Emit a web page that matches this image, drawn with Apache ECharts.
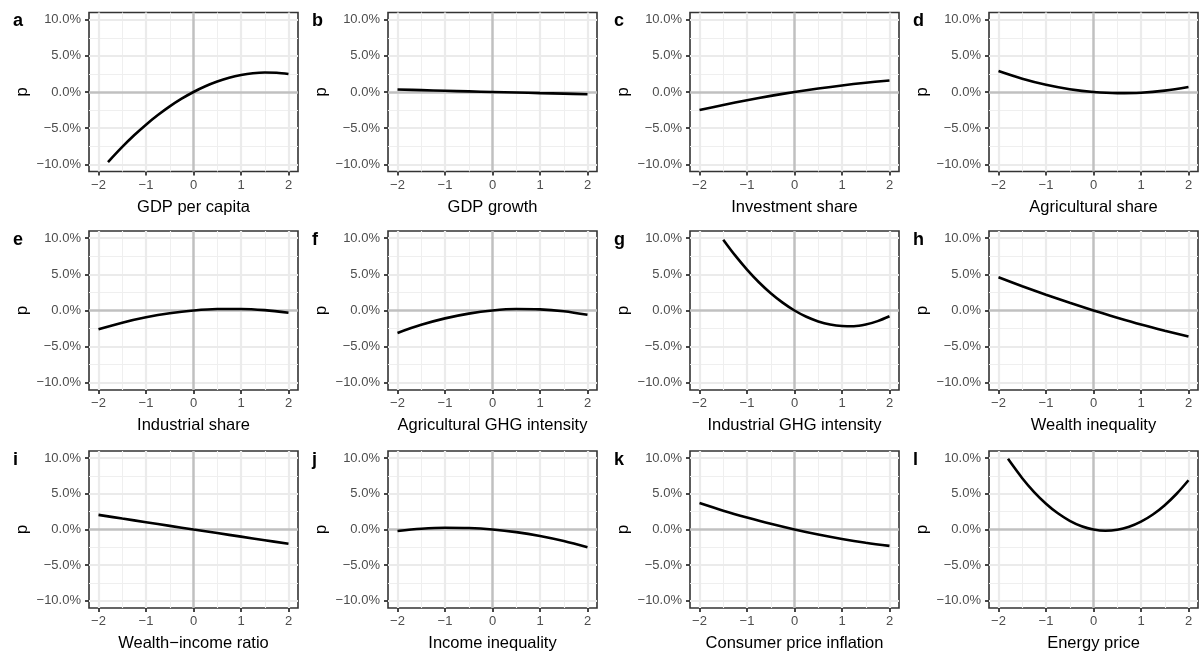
<!DOCTYPE html>
<html>
<head>
<meta charset="utf-8">
<script src="https://cdn.jsdelivr.net/npm/echarts@6/dist/echarts.min.js"></script>
<style>
  html, body { margin: 0; padding: 0; background: #fff; }
  #chart { width: 1203px; height: 653px; }
</style>
</head>
<body>
<div id="chart"></div>
<script>
// x positions (standardised predictor)
var xHalf = [-2, -1.5, -1, -0.5, 0, 0.5, 1, 1.5, 2];
var xFromM18 = [-1.8, -1.5, -1.25, -1, -0.75, -0.5, -0.25, 0, 0.25, 0.5, 0.75, 1, 1.25, 1.5, 1.75, 2];
var xFromM15 = [-1.5, -1.25, -1, -0.75, -0.5, -0.25, 0, 0.25, 0.5, 0.75, 1, 1.25, 1.5, 1.75, 2];

// p values in percent
var pGdpPerCapita = [-9.7, -7.6, -5.99, -4.52, -3.19, -1.99, -0.93, 0, 0.79, 1.44, 1.96, 2.34, 2.59, 2.69, 2.67, 2.5];
var pGdpGrowth = [0.35, 0.26, 0.17, 0.08, 0, -0.07, -0.15, -0.23, -0.32];
var pInvestment = [-2.5, -1.79, -1.14, -0.54, 0, 0.48, 0.91, 1.28, 1.6];
var pAgriShare = [2.9, 1.84, 1.0, 0.39, 0, -0.16, -0.1, 0.19, 0.7];
var pIndShare = [-2.6, -1.68, -0.94, -0.38, 0, 0.2, 0.21, 0.05, -0.3];
var pAgriGhg = [-3.1, -1.98, -1.09, -0.43, 0, 0.2, 0.16, -0.1, -0.6];
var pIndGhg = [9.8, 7.62, 5.66, 3.91, 2.39, 1.09, 0, -0.87, -1.51, -1.94, -2.15, -2.18, -1.95, -1.47, -0.8];
var pWealthIneq = [4.6, 3.36, 2.18, 1.06, 0, -0.99, -1.93, -2.79, -3.6];
var pWealthIncome = [2.05, 1.53, 1.02, 0.51, 0, -0.5, -1.0, -1.5, -2.0];
var pIncomeIneq = [-0.2, 0.1, 0.24, 0.2, 0, -0.37, -0.91, -1.62, -2.5];
var pCpi = [3.7, 2.64, 1.68, 0.79, 0, -0.71, -1.33, -1.86, -2.3];
var pEnergy = [9.9, 7.19, 5.25, 3.62, 2.27, 1.22, 0.46, 0, -0.17, -0.04, 0.38, 1.1, 2.1, 3.41, 5.01, 6.9];

var tags = ['a', 'b', 'c', 'd', 'e', 'f', 'g', 'h', 'i', 'j', 'k', 'l'];
var titles = ['GDP per capita', 'GDP growth', 'Investment share', 'Agricultural share',
  'Industrial share', 'Agricultural GHG intensity', 'Industrial GHG intensity', 'Wealth inequality',
  'Wealth\u2212income ratio', 'Income inequality', 'Consumer price inflation', 'Energy price'];
var xs = [xFromM18, xHalf, xHalf, xHalf, xHalf, xHalf, xFromM15, xHalf, xHalf, xHalf, xHalf, xFromM18];
var ps = [pGdpPerCapita, pGdpGrowth, pInvestment, pAgriShare, pIndShare, pAgriGhg, pIndGhg,
  pWealthIneq, pWealthIncome, pIncomeIneq, pCpi, pEnergy];

var xTicks = [-2, -1, 0, 1, 2];
var yTicks = [-10, -5, 0, 5, 10];
var xMinor = [-1.5, -0.5, 0.5, 1.5];
var yMinor = [-7.5, -2.5, 2.5, 7.5];

var lefts = [89, 388, 690, 989];
var tops = [12.5, 231, 451];
var W = 209, H = 159;
var font = 'Liberation Sans, Arial, Helvetica, sans-serif';

function minus(s) { return String(s).replace('-', '\u2212'); }

var grid = [], xAxis = [], yAxis = [], series = [], title = [];

tags.forEach(function (tag, i) {
  var c = i % 4, r = Math.floor(i / 4);
  grid.push({
    left: lefts[c], top: tops[r], width: W, height: H,
    show: true, backgroundColor: '#fff', borderColor: '#333', borderWidth: 1.6
  });
  xAxis.push({
    gridIndex: i, type: 'value', min: -2.2, max: 2.2,
    name: titles[i], nameLocation: 'middle', nameGap: 27,
    nameTextStyle: { fontSize: 16.5, color: '#000', fontFamily: font },
    axisLine: { show: false, onZero: false },
    splitLine: { show: false },
    axisTick: { show: true, customValues: xTicks, length: 4, lineStyle: { color: '#333', width: 1.8 } },
    axisLabel: {
      customValues: xTicks, margin: 7, fontSize: 13, color: '#4d4d4d', fontFamily: font,
      formatter: function (v) { return minus(v); }
    }
  });
  yAxis.push({
    gridIndex: i, type: 'value', min: -11, max: 11,
    name: 'p', nameLocation: 'middle', nameGap: 58, nameRotate: 90,
    nameTextStyle: { fontSize: 16.5, color: '#000', fontFamily: font },
    axisLine: { show: false, onZero: false },
    splitLine: { show: false },
    axisTick: { show: true, customValues: yTicks, length: 4, lineStyle: { color: '#333', width: 1.8 } },
    axisLabel: {
      customValues: yTicks, margin: 8, fontSize: 13, color: '#4d4d4d', fontFamily: font,
      formatter: function (v) { return minus(v.toFixed(1)) + '%'; }
    }
  });

  var lines = [];
  xMinor.forEach(function (v) { lines.push({ xAxis: v, lineStyle: { color: '#efefef', width: 1.1, type: 'solid' } }); });
  yMinor.forEach(function (v) { lines.push({ yAxis: v, lineStyle: { color: '#efefef', width: 1.1, type: 'solid' } }); });
  xTicks.forEach(function (v) { if (v !== 0) lines.push({ xAxis: v, lineStyle: { color: '#ebebeb', width: 2.2, type: 'solid' } }); });
  yTicks.forEach(function (v) { if (v !== 0) lines.push({ yAxis: v, lineStyle: { color: '#ebebeb', width: 2.2, type: 'solid' } }); });
  lines.push({ xAxis: 0, lineStyle: { color: '#c0c0c0', width: 2.5, type: 'solid' } });
  lines.push({ yAxis: 0, lineStyle: { color: '#c0c0c0', width: 2.5, type: 'solid' } });

  series.push({
    type: 'line', xAxisIndex: i, yAxisIndex: i, data: [], silent: true, z: 1,
    markLine: { symbol: ['none', 'none'], silent: true, animation: false, label: { show: false }, data: lines }
  });
  series.push({
    type: 'line', xAxisIndex: i, yAxisIndex: i, z: 5,
    data: xs[i].map(function (x, j) { return [x, ps[i][j]]; }),
    showSymbol: false, smooth: 0.35, silent: true,
    lineStyle: { color: '#000', width: 2.6 }
  });
  title.push({
    text: tag, left: lefts[c] - 81, top: tops[r] - 5,
    textStyle: { fontSize: 18, fontWeight: 'bold', color: '#000', fontFamily: font }
  });
});

var chart = echarts.init(document.getElementById('chart'));
chart.setOption({
  animation: false,
  backgroundColor: '#fff',
  title: title,
  grid: grid,
  xAxis: xAxis,
  yAxis: yAxis,
  series: series
});
</script>
</body>
</html>
